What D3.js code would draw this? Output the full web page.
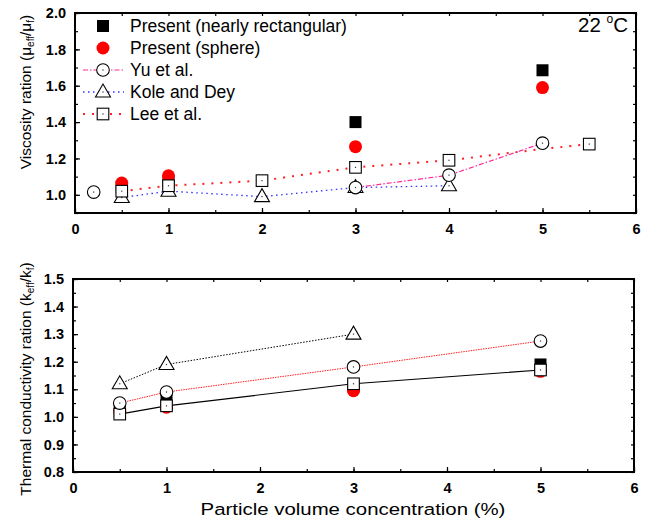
<!DOCTYPE html>
<html>
<head>
<meta charset="utf-8">
<script src="https://cdn.jsdelivr.net/npm/d3@7"></script>
<style>
  body { margin: 0; background: #fff; }
  svg { font-family: "Liberation Sans", Arial, sans-serif; }
</style>
</head>
<body>
<svg id="chart" width="650" height="522"></svg>
<script>
// ---- data: viscosity panel (22 °C)
const viscRectX = [0.5, 1, 3, 5];
const viscRectY = [1.04, 1.07, 1.40, 1.685];
const viscSphX = [0.5, 1, 3, 5];
const viscSphY = [1.065, 1.105, 1.265, 1.59];
const viscYuX = [0.2, 3, 4, 5];
const viscYuY = [1.015, 1.04, 1.108, 1.284];
const viscKoleX = [0.5, 1, 2, 3, 4];
const viscKoleY = [0.985, 1.02, 0.99, 1.04, 1.05];
const viscLeeX = [0.5, 1, 2, 3, 4, 5.5];
const viscLeeY = [1.02, 1.05, 1.078, 1.151, 1.19, 1.279];
const viscLeeLineX = [0.5, 1, 2, 3, 4, 5, 5.5];
const viscLeeLineY = [1.02, 1.05, 1.078, 1.151, 1.19, 1.252, 1.279];

// ---- data: thermal conductivity panel
const condRectX = [0.5, 1, 3, 5];
const condRectY = [1.02, 1.06, 1.11, 1.19];
const condSphX = [0.5, 1, 3, 5];
const condSphY = [1.02, 1.035, 1.095, 1.165];
const condYuX = [0.5, 1, 3, 5];
const condYuY = [1.05, 1.09, 1.181, 1.275];
const condKoleX = [0.5, 1, 3];
const condKoleY = [1.12, 1.19, 1.30];
const condLeeX = [0.5, 1, 3, 5];
const condLeeY = [1.01, 1.04, 1.12, 1.17];

const xTicks = [0, 1, 2, 3, 4, 5, 6];
const viscTicks = [1.0, 1.2, 1.4, 1.6, 1.8, 2.0];
const condTicks = [0.8, 0.9, 1.0, 1.1, 1.2, 1.3, 1.4, 1.5];

const svg = d3.select('#chart');
const zip = (xs, ys) => xs.map((x, i) => [x, ys[i]]);

// ----------------------------
// Marker helpers
// ----------------------------
function marker(g, kind, cx, cy) {
  if (kind === 'rect') {
    g.append('rect').attr('x', cx - 6).attr('y', cy - 6).attr('width', 12).attr('height', 12).attr('fill', '#000');
  } else if (kind === 'sphere') {
    g.append('circle').attr('cx', cx).attr('cy', cy).attr('r', 6.5).attr('fill', '#ff0000');
  } else if (kind === 'circle') {
    g.append('circle').attr('cx', cx).attr('cy', cy).attr('r', 6.3).attr('fill', '#fff').attr('stroke', '#000').attr('stroke-width', 1.1);
  } else if (kind === 'square') {
    g.append('rect').attr('x', cx - 5.8).attr('y', cy - 5.8).attr('width', 11.6).attr('height', 11.6).attr('fill', '#fff').attr('stroke', '#000').attr('stroke-width', 1.1);
  } else if (kind === 'triangle') {
    g.append('path').attr('d', `M${cx - 7.5},${cy + 5} L${cx + 7.5},${cy + 5} L${cx},${cy - 8} Z`).attr('fill', '#fff').attr('stroke', '#000').attr('stroke-width', 1.1);
  }
  if (kind === 'circle' || kind === 'square' || kind === 'triangle') {
    g.append('rect').attr('x', cx - 0.6).attr('y', cy - 0.6).attr('width', 1.2).attr('height', 1.2).attr('fill', '#333');
  }
}

// ----------------------------
// Panel builder
// ----------------------------
function panel(box, yDomain, yMajor, yMinorStep) {
  const x = d3.scaleLinear().domain([0, 6]).range([box.left, box.right]);
  const y = d3.scaleLinear().domain(yDomain).range([box.bottom, box.top]);
  const g = svg.append('g');

  const xMinor = d3.range(0, 6.01, 0.5);
  const yMinor = d3.range(yDomain[0], yDomain[1] + 1e-6, yMinorStep);

  const bottom = g.append('g').attr('transform', `translate(0,${box.bottom})`)
    .call(d3.axisBottom(x).tickValues(xMinor).tickSize(-3).tickFormat(''));
  const bottomMaj = g.append('g').attr('transform', `translate(0,${box.bottom})`)
    .call(d3.axisBottom(x).tickValues(xTicks).tickSize(-5).tickPadding(11).tickFormat(d3.format('d')));
  const top = g.append('g').attr('transform', `translate(0,${box.top})`)
    .call(d3.axisTop(x).tickValues(xMinor).tickSize(-3).tickFormat(''));
  const left = g.append('g').attr('transform', `translate(${box.left},0)`)
    .call(d3.axisLeft(y).tickValues(yMinor).tickSize(-3).tickFormat(''));
  const leftMaj = g.append('g').attr('transform', `translate(${box.left},0)`)
    .call(d3.axisLeft(y).tickValues(yMajor).tickSize(-5).tickPadding(9).tickFormat(d3.format('.1f')));
  const right = g.append('g').attr('transform', `translate(${box.right},0)`)
    .call(d3.axisRight(y).tickValues(yMinor).tickSize(-3).tickFormat(''));

  [bottom, bottomMaj, top, left, leftMaj, right].forEach(a => {
    a.select('.domain').remove();
    a.selectAll('line').attr('stroke', '#000').attr('stroke-width', 1.2);
    a.selectAll('text').attr('font-size', 14.5).attr('font-weight', 'bold').attr('fill', '#000')
      .attr('font-family', '"Liberation Sans", Arial, sans-serif');
  });

  g.append('rect').attr('x', box.left).attr('y', box.top)
    .attr('width', box.right - box.left).attr('height', box.bottom - box.top)
    .attr('fill', 'none').attr('stroke', '#000').attr('stroke-width', 2);

  return { x, y, g };
}

function drawLine(p, xs, ys, color, dash, width) {
  p.g.append('path')
    .attr('d', d3.line().x(d => p.x(d[0])).y(d => p.y(d[1]))(zip(xs, ys)))
    .attr('fill', 'none').attr('stroke', color).attr('stroke-width', width || 1.2)
    .attr('stroke-dasharray', dash);
}

function drawMarkers(p, xs, ys, kind) {
  zip(xs, ys).forEach(d => marker(p.g, kind, p.x(d[0]), p.y(d[1])));
}

// ----------------------------
// Top panel: viscosity
// ----------------------------
const pv = panel({ left: 75, right: 636, top: 13, bottom: 213 }, [0.9, 2.0], viscTicks, 0.1);

drawLine(pv, viscKoleX, viscKoleY, '#3030ff', '1.5 3.5', 1.3);
drawLine(pv, viscLeeLineX, viscLeeLineY, '#ff2020', '2 7', 2);
drawLine(pv, viscYuX.slice(1), viscYuY.slice(1), '#ff2a9a', '5 2 1.5 2', 1.2);

drawMarkers(pv, viscRectX, viscRectY, 'rect');
drawMarkers(pv, viscSphX, viscSphY, 'sphere');
drawMarkers(pv, viscKoleX, viscKoleY, 'triangle');
drawMarkers(pv, viscLeeX, viscLeeY, 'square');
drawMarkers(pv, viscYuX, viscYuY, 'circle');

// legend
const legend = [
  { label: 'Present (nearly rectangular)', kind: 'rect' },
  { label: 'Present (sphere)', kind: 'sphere' },
  { label: 'Yu et al.', kind: 'circle', color: '#ff2a9a', dash: '5 2 1.5 2', w: 1.2 },
  { label: 'Kole and Dey', kind: 'triangle', color: '#3030ff', dash: '1.5 3.5', w: 1.3 },
  { label: 'Lee et al.', kind: 'square', color: '#ff2020', dash: '2 7', w: 2 }
];
legend.forEach((d, i) => {
  const cy = 26 + i * 22;
  if (d.color) {
    pv.g.append('line').attr('x1', 83).attr('x2', 124).attr('y1', cy).attr('y2', cy)
      .attr('stroke', d.color).attr('stroke-width', d.w).attr('stroke-dasharray', d.dash);
  }
  marker(pv.g, d.kind, 103, cy);
  pv.g.append('text').attr('x', 130).attr('y', cy + 6).attr('font-size', 17.5).text(d.label);
});

const temp = pv.g.append('text').attr('x', 628).attr('y', 32).attr('text-anchor', 'end').attr('font-size', 20.5);
temp.append('tspan').text('22 ');
temp.append('tspan').attr('font-size', 12).attr('dy', -9).text('o');
temp.append('tspan').attr('dy', 9).text('C');

// y label top
const yl1 = svg.append('text').attr('transform', 'translate(31,92) rotate(-90)')
  .attr('text-anchor', 'middle').attr('font-size', 15.5);
yl1.append('tspan').text('Viscosity ration (\u03bc');
yl1.append('tspan').attr('font-size', 10).attr('dy', 3).text('eff');
yl1.append('tspan').attr('dy', -3).text('/\u03bc');
yl1.append('tspan').attr('font-size', 10).attr('dy', 3).text('f');
yl1.append('tspan').attr('dy', -3).text(')');

// ----------------------------
// Bottom panel: thermal conductivity
// ----------------------------
const pc = panel({ left: 73, right: 634, top: 279, bottom: 472 }, [0.8, 1.5], condTicks, 0.05);

drawLine(pc, condKoleX, condKoleY, '#000', '1.5 1.5', 1);
drawLine(pc, condYuX, condYuY, '#ff2020', '1.5 1', 1);
drawLine(pc, condLeeX, condLeeY, '#000', null, 1.2);

drawMarkers(pc, condRectX, condRectY, 'rect');
drawMarkers(pc, condSphX, condSphY, 'sphere');
drawMarkers(pc, condLeeX, condLeeY, 'square');
drawMarkers(pc, condYuX, condYuY, 'circle');
drawMarkers(pc, condKoleX, condKoleY, 'triangle');

const yl2 = svg.append('text').attr('transform', 'translate(31,379) rotate(-90)')
  .attr('text-anchor', 'middle').attr('font-size', 15.5);
yl2.append('tspan').text('Thermal conductivity ration (k');
yl2.append('tspan').attr('font-size', 10).attr('dy', 3).text('eff');
yl2.append('tspan').attr('dy', -3).text('/k');
yl2.append('tspan').attr('font-size', 10).attr('dy', 3).text('f');
yl2.append('tspan').attr('dy', -3).text(')');

svg.append('text').attr('x', 353).attr('y', 515).attr('text-anchor', 'middle')
  .attr('font-size', 17).attr('transform', 'translate(353,0) scale(1.2,1) translate(-353,0)')
  .text('Particle volume concentration (%)');
</script>
</body>
</html>
